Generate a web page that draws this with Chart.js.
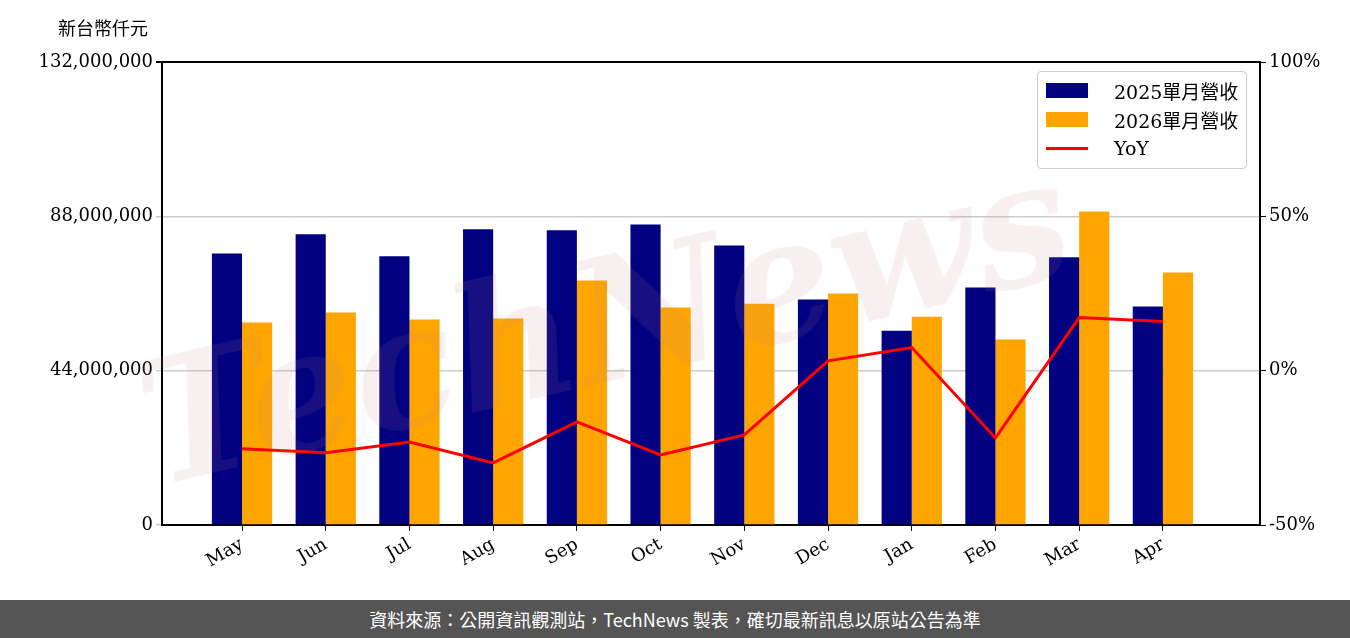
<!DOCTYPE html>
<html><head><meta charset="utf-8">
<script src="https://cdn.jsdelivr.net/npm/chart.js@4"></script>
<style>
body{margin:0;width:1350px;height:638px;background:#fff;overflow:hidden;position:relative;font-family:"DejaVu Serif",serif}
#wrap{position:absolute;left:0;top:0;width:1350px;height:600px}
#foot{position:absolute;left:0;top:600px;width:1350px;height:38px;background:#555;color:#fff;font:18px "Noto Sans CJK TC",sans-serif;text-align:center;line-height:38px}
#unit{position:absolute;left:58px;top:14px;font:18px "Noto Sans CJK TC",sans-serif;color:#000}
#wm{position:absolute;left:120px;top:330px;font:italic bold 170px "DejaVu Serif",serif;color:rgba(200,130,130,0.12);transform:rotate(-13deg);transform-origin:left top;pointer-events:none;white-space:nowrap}
#leg{position:absolute;left:1037px;top:71px;width:208px;height:96px;border:1px solid #ccc;border-radius:4px;background:rgba(255,255,255,0.8);font:19px "DejaVu Serif","Noto Sans CJK TC",serif}
.it{position:absolute;left:8px;height:20px;display:flex;align-items:center}
.sw{width:42px;height:15px;margin-right:26px}
</style></head><body>
<div id="wrap"><canvas id="c" width="1350" height="600"></canvas></div>
<div id="wm">TechNews</div>
<div id="unit">新台幣仟元</div>
<div id="leg">
<div class="it" style="top:8px"><div class="sw" style="background:#000080"></div>2025單月營收</div>
<div class="it" style="top:37px"><div class="sw" style="background:#FFA500"></div>2026單月營收</div>
<div class="it" style="top:66px"><div class="sw" style="height:3px;background:red"></div>YoY</div>
</div>
<div id="foot">資料來源：公開資訊觀測站，TechNews 製表，確切最新訊息以原站公告為準</div>
<script>
const categories=["May","Jun","Jul","Aug","Sep","Oct","Nov","Dec","Jan","Feb","Mar","Apr"];
const rev2025=[77400000,82900000,76600000,84300000,84000000,85700000,79700000,64300000,55400000,67700000,76300000,62300000];
const rev2026=[57700000,60600000,58600000,58900000,69700000,62000000,63100000,66000000,59400000,52900000,89400000,72000000];
const yoy=[-25.3,-26.6,-23.1,-29.9,-16.6,-27.3,-20.8,3.2,7.5,-21.8,17.2,15.9];
const leftTicks=[0,44000000,88000000,132000000];
const rightTicks=[-50,0,50,100];
const fnt={family:"DejaVu Serif",size:18};
const pts=a=>a.map((v,i)=>({x:i,y:v}));
new Chart(document.getElementById('c'),{
data:{datasets:[
{type:'line',data:pts(yoy),yAxisID:'y2',borderColor:'red',borderWidth:3,pointRadius:0,tension:0,order:0},
{type:'bar',data:pts(rev2025),backgroundColor:'#000080',yAxisID:'y',categoryPercentage:0.72,barPercentage:1,order:1},
{type:'bar',data:pts(rev2026),backgroundColor:'#FFA500',yAxisID:'y',categoryPercentage:0.72,barPercentage:1,order:1}]},
options:{responsive:false,animation:false,
layout:{padding:{left:0,right:0,top:62,bottom:5}},
plugins:{legend:{display:false},tooltip:{enabled:false}},
scales:{
x:{type:'linear',offset:false,min:-0.956,max:12.16,afterBuildTicks:a=>{a.ticks=categories.map((c,i)=>({value:i}))},afterFit:a=>{a.height=70},
 grid:{display:true,offset:false,drawOnChartArea:false,tickLength:6,color:'#000'},border:{color:'#000',width:2},
 ticks:{color:'#000',font:fnt,maxRotation:30,minRotation:30,callback:v=>categories[v]}},
y:{position:'left',min:0,max:132000000,afterBuildTicks:a=>{a.ticks=leftTicks.map(v=>({value:v}))},afterFit:a=>{a.width=162},
 grid:{color:c=>c.tick&&c.tick.value===132000000?'#000':'#ccc',lineWidth:c=>c.tick&&c.tick.value===132000000?2:1.5,tickLength:6},border:{color:'#000',width:2},ticks:{color:'#000',font:fnt,callback:v=>v.toLocaleString('en-US')}},
y2:{position:'right',min:-50,max:100,afterBuildTicks:a=>{a.ticks=rightTicks.map(v=>({value:v}))},afterFit:a=>{a.width=90},
 grid:{display:true,drawOnChartArea:false,color:'#000',tickLength:6},border:{color:'#000',width:2},ticks:{color:'#000',font:fnt,callback:v=>v+'%'}}
}}});
</script></body></html>
